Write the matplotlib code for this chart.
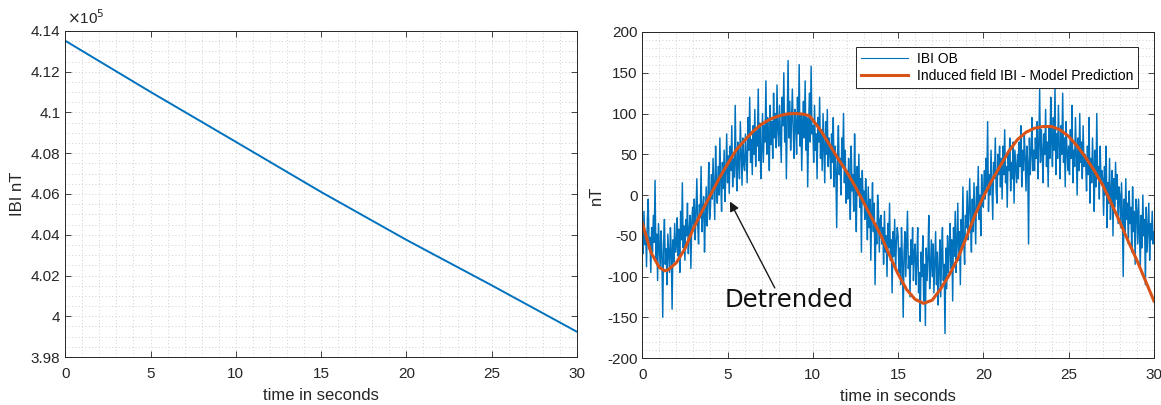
import numpy as np
import matplotlib
matplotlib.use("Agg")
import matplotlib.pyplot as plt
from matplotlib.ticker import MultipleLocator, FuncFormatter

plt.rcParams["font.family"] = ["Liberation Sans", "DejaVu Sans"]
plt.rcParams["axes.unicode_minus"] = False

BLUE = "#0072BD"
ORANGE = "#D95319"
INK = "#262626"

# raw total field (nT) sampled along the record
raw_t = [0, 5, 10, 15, 20, 25, 30]
raw_ibi = [413520, 411010, 408560, 406100, 403750, 401520, 399240]

# detrended observation, one row per second (20 samples/s) plus the last sample
ibi_ob = [
    -38, -72, -20, -61, -45, -88, -30, -5, -66, -52, -95, -40, -70, -25, -58, 18, -80, -48, -105, -35,
    -62, -90, -44, -75, -150, -58, -30, -85, -66, -110, -48, -72, -95, -40, -68, -140, -55, -82, -35, -70,
    -60, -28, -75, -42, -95, -20, -55, 15, -65, -38, -80, -30, -50, -10, -72, -44, -25, -90, -35, -15,
    -40, -5, -55, -22, 20, -35, -60, -12, -28, 35, -45, -18, -2, -70, -25, 10, -38, -8, 40, -30,
    -15, 25, -5, 45, 5, -30, 60, 12, -10, 35, 0, 70, 18, -20, 40, 8, 55, -8, 28, 75,
    15, 48, 2, 60, 30, 85, 10, 45, 22, 110, 35, 5, 65, 40, 20, 90, 50, 12, 70, 38,
    30, 75, 45, 15, 95, 55, 120, 40, 68, 25, 85, 50, 105, 35, 78, 60, 130, 42, 88, 20,
    55, 100, 40, 85, 65, 140, 50, 95, 75, 30, 110, 62, 90, 45, 125, 70, 100, 58, 135, 80,
    60, 110, 75, 40, 120, 85, 150, 65, 100, 20, 95, 165, 70, 115, 55, 90, 130, 80, 45, 105,
    90, 50, 120, 75, 160, 60, 100, 30, 85, 115, 70, 140, 55, 95, 10, 80, 125, 65, 158, 75,
    85, 40, 110, 55, 75, 20, 95, 65, 120, 45, 80, 30, 100, 60, 15, 90, 50, 105, 35, 70,
    55, 20, 75, 40, 95, 10, 60, 30, -40, 50, 85, 25, 45, 0, 70, 35, 100, 15, 55, -10,
    30, -5, 45, 15, -30, 60, 5, 25, -20, 75, 10, -45, 35, 0, 50, -15, 20, -70, 30, -10,
    5, -30, 20, -15, -55, 10, -40, -5, -80, -25, 15, -45, -10, -110, -35, -60, 0, -20, -70, -30,
    -25, -60, -40, -85, -20, -70, -50, -100, -35, -65, -10, -80, -55, -120, -45, -75, -30, -90, -60, -40,
    -50, -95, -65, -110, -40, -80, -150, -70, -45, -100, -60, -20, -90, -75, -125, -55, -85, -40, -105, -70,
    -60, -110, -80, -40, -120, -95, -155, -70, -100, -50, -130, -85, -160, -65, -105, -75, -25, -115, -90, -55,
    -100, -60, -120, -80, -45, -110, -70, -135, -90, -55, -125, -75, -40, -105, -85, -170, -65, -115, -50, -95,
    -70, -35, -90, -55, -130, -40, -75, -20, -95, -60, -10, -80, -45, -110, -30, -65, 10, -55, -85, -25,
    -40, 5, -55, -20, 20, -35, -70, -5, -45, 15, -25, -60, 10, -15, 35, -30, 0, -50, 25, -10,
    -15, 30, -5, 45, 10, 90, -20, 25, 0, 55, 15, -30, 40, 20, 70, 5, -10, 50, 25, 60,
    10, 45, -5, 60, 25, 80, 15, 35, -15, 50, 30, 70, 5, 40, 20, 65, -10, 55, 35, 15,
    50, 20, 65, 35, 85, 10, 55, 30, 75, 45, 5, 60, 40, -60, 70, 25, 50, 95, 30, 55,
    30, 70, 45, 90, 20, 60, 130, 40, 80, 55, 15, 75, 50, 105, 35, 65, 10, 85, 45, 120,
    70, 35, 95, 55, 135, 25, 75, 45, 110, 60, 20, 85, 50, 125, 40, 70, 10, 90, 55, 30,
    60, 25, 80, 45, 110, 15, 55, 35, 95, 50, 0, 70, 30, 100, 40, 65, 20, 85, 35, 50,
    40, 5, 60, 25, 95, -10, 45, 15, 70, 30, -20, 55, 10, 100, 20, 35, -5, 60, 15, 30,
    20, -25, 35, 0, 60, -40, 15, -10, 45, -30, 5, 30, -50, 20, -15, 40, -5, 25, -35, 10,
    0, -40, 15, -25, -100, -5, -50, 20, -30, -10, -60, 5, -35, -15, -70, 10, -45, -20, -85, -5,
    -20, -60, -5, -45, -90, -25, -65, 0, -50, -30, -110, -15, -70, -40, -10, -80, -35, -55, -20, -60,
    -45,
]

# model prediction of the induced field
model_t = [0, 0.5, 1.0, 1.33, 1.5, 2.0, 2.5, 3.0, 3.5, 4.0, 4.5, 5.0, 5.5, 6.0, 6.5, 7.0, 7.5,
           8.0, 8.5, 9.0, 9.5, 9.8, 10.0, 10.5, 11.0, 11.5, 12.0, 12.5, 13.0, 13.5, 14.0, 14.5,
           15.0, 15.5, 16.0, 16.5, 17.0, 17.5, 18.0, 18.5, 19.0, 19.5, 20.0, 20.5, 21.0, 21.5,
           22.0, 22.5, 23.0, 23.5, 24.0, 24.5, 25.0, 25.5, 26.0, 26.5, 27.0, 27.5, 28.0, 28.5,
           29.0, 29.5, 30.0]
model_ibi = [-34, -70, -89, -93, -92, -83, -66, -41, -20, 0, 20, 38, 55, 67, 78, 87, 93,
             97, 99.5, 100, 99, 97, 92, 78, 61, 44, 28, 10, -10, -30, -50, -74,
             -97, -116, -128, -133, -129, -115, -98, -78, -52, -25, -2, 18, 36, 54,
             68, 77, 82, 84, 84, 80, 72, 60, 46, 30, 12, -10, -33, -57,
             -80, -105, -130]


def style_axes(ax, ymajor, yminor):
    ax.set_xlim(0, 30)
    ax.xaxis.set_major_locator(MultipleLocator(5))
    ax.xaxis.set_minor_locator(MultipleLocator(1))
    ax.yaxis.set_major_locator(MultipleLocator(ymajor))
    ax.yaxis.set_minor_locator(MultipleLocator(yminor))
    ax.grid(which="both", color="#c2c2c2", linestyle=(0, (1, 3)), linewidth=0.6)
    ax.set_axisbelow(True)
    ax.tick_params(which="major", direction="in", length=4, width=0.6, color=INK,
                   labelcolor=INK, labelsize=11, top=True, right=True)
    ax.tick_params(axis="x", which="major", pad=7)
    ax.tick_params(which="minor", length=0)
    for s in ax.spines.values():
        s.set_color(INK)
        s.set_linewidth(0.7)
    ax.set_xlabel("time in seconds", fontsize=12, color=INK, labelpad=5)


fig = plt.figure(figsize=(11.61, 4.05), dpi=100)
ax1 = fig.add_axes([0.0562, 0.1185, 0.4407, 0.805])
ax2 = fig.add_axes([0.5532, 0.116, 0.4407, 0.805])

# left: raw field with its linear drift
ax1.plot(raw_t, raw_ibi, color=BLUE, lw=1.4)
ax1.set_ylim(398000, 414000)
style_axes(ax1, 2000, 500)
ax1.yaxis.set_major_formatter(FuncFormatter(lambda v, _: f"{v / 1e5:g}"))
ax1.set_ylabel("IBI nT", fontsize=12, color=INK, labelpad=4)
ax1.text(0.003, 1.012, r"$\times$10$^5$", transform=ax1.transAxes, fontsize=11,
         color=INK, ha="left", va="bottom")

# right: detrended observation against the model
ob_t = np.linspace(0, 30, len(ibi_ob))
ax2.plot(ob_t, ibi_ob, color=BLUE, lw=1.05, label="IBI OB")
ax2.plot(model_t, model_ibi, color=ORANGE, lw=2.2, label="Induced field IBI - Model Prediction")
ax2.set_ylim(-200, 200)
style_axes(ax2, 50, 10)
ax2.set_ylabel("nT", fontsize=12, color=INK, labelpad=2)

leg = ax2.legend(loc="upper right", bbox_to_anchor=(0.969, 0.955), borderaxespad=0,
                 fontsize=10, fancybox=False, framealpha=1, edgecolor=INK,
                 handlelength=3.4, borderpad=0.35, labelspacing=0.25, handletextpad=0.6)
leg.get_frame().set_linewidth(0.7)
leg.get_lines()[0].set_linewidth(0.8)

ax2.annotate("", xy=(5.14, -8), xytext=(7.77, -114),
             arrowprops=dict(arrowstyle="-|>", color="#1a1a1a", lw=1.0,
                             mutation_scale=14, shrinkA=0, shrinkB=0))
ax2.text(4.83, -137, "Detrended", fontsize=17.5, family="DejaVu Sans", color="#111111",
         ha="left", va="baseline")

fig.savefig("out.png", dpi=100)
